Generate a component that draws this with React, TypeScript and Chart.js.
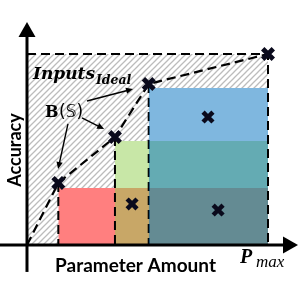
import React, { useEffect, useRef } from 'react';
import { Chart, registerables } from 'chart.js';

Chart.register(...registerables);

// ---- data (normalised units: parameter amount 0..P_max=1, accuracy 0..ideal=1) ----
const POINT_X = [0.13, 0.365, 0.505, 1.0]; // B(S) selections and P_max
const POINT_Y = [0.325, 0.565, 0.843, 1.0];
const RECT_X = [0.13, 0.365, 0.505];
const RECT_TOP = [0.298, 0.545, 0.822];
const RECT_COLORS = ['rgba(255,0,0,0.5)', 'rgba(146,208,80,0.5)', 'rgba(0,112,192,0.5)'];
const CAND_X = [0.751, 0.436, 0.793];
const CAND_Y = [0.67, 0.215, 0.183];
const P_MAX = 1.0;
const ACC_IDEAL = 1.0;
const ARROW_FROM_X = [0.249, 0.228, 0.17];
const ARROW_FROM_Y = [0.754, 0.665, 0.634];
const ARROW_TO_X = [0.44, 0.32, 0.129];
const ARROW_TO_Y = [0.817, 0.607, 0.398];
const X_RANGE = [-0.112, 1.1286];
const Y_RANGE = [-0.2827, 1.2827];
const X_AXIS_END = 1.1245;
const Y_AXIS_END = 1.168;
const Y_AXIS_START = -0.141;

function makeHatch(): CanvasPattern | string {
  const s = 6;
  const c = document.createElement('canvas');
  c.width = s;
  c.height = s;
  const g = c.getContext('2d');
  if (!g) return '#ddd';
  g.fillStyle = '#ffffff';
  g.fillRect(0, 0, s, s);
  g.strokeStyle = '#bcbcbc';
  g.lineWidth = 1.3;
  g.beginPath();
  g.moveTo(-1, s + 1);
  g.lineTo(s + 1, -1);
  g.moveTo(-1, 1);
  g.lineTo(1, -1);
  g.moveTo(s - 1, s + 1);
  g.lineTo(s + 1, s - 1);
  g.stroke();
  const p = g.createPattern(c, 'repeat');
  return p || '#ddd';
}

function drawArrow(ctx: CanvasRenderingContext2D, x0: number, y0: number, x1: number, y1: number, lw: number, hl: number, hw: number, color: string) {
  const a = Math.atan2(y1 - y0, x1 - x0);
  const bx = x1 - Math.cos(a) * hl;
  const by = y1 - Math.sin(a) * hl;
  ctx.strokeStyle = color;
  ctx.fillStyle = color;
  ctx.lineWidth = lw;
  ctx.beginPath();
  ctx.moveTo(x0, y0);
  ctx.lineTo(bx + Math.cos(a) * 1, by + Math.sin(a) * 1);
  ctx.stroke();
  ctx.beginPath();
  ctx.moveTo(x1, y1);
  ctx.lineTo(bx - Math.sin(a) * hw, by + Math.cos(a) * hw);
  ctx.lineTo(bx + Math.sin(a) * hw, by - Math.cos(a) * hw);
  ctx.closePath();
  ctx.fill();
}

const overlay = {
  id: 'overlay',
  afterDatasetsDraw(chart: any) {
    const { ctx } = chart;
    const xs = chart.scales.x;
    const ys = chart.scales.y;
    const X = (v: number) => xs.getPixelForValue(v);
    const Y = (v: number) => ys.getPixelForValue(v);
    ctx.save();
    // axes
    drawArrow(ctx, X(X_RANGE[0]), Y(0), X(X_AXIS_END), Y(0), 3, 15, 8.5, '#000');
    drawArrow(ctx, X(0), Y(Y_AXIS_START), X(0), Y(Y_AXIS_END), 3, 15, 8.5, '#000');
    // annotation arrows
    for (let i = 0; i < ARROW_FROM_X.length; i++) {
      drawArrow(ctx, X(ARROW_FROM_X[i]), Y(ARROW_FROM_Y[i]), X(ARROW_TO_X[i]), Y(ARROW_TO_Y[i]), 1.4, 7, 3.2, '#000');
    }
    ctx.restore();
  },
  afterDraw(chart: any) {
    const { ctx } = chart;
    ctx.save();
    ctx.fillStyle = '#000';
    ctx.textBaseline = 'alphabetic';
    // Accuracy
    ctx.save();
    ctx.translate(21, 150);
    ctx.rotate(-Math.PI / 2);
    ctx.textAlign = 'center';
    ctx.font = 'bold 18px Lato';
    ctx.fillText('Accuracy', 0, 0);
    ctx.restore();
    // Parameter Amount
    ctx.textAlign = 'center';
    ctx.font = 'bold 19px Lato';
    ctx.fillText('Parameter Amount', 135.5, 272);
    // P_max
    ctx.textAlign = 'left';
    ctx.font = 'italic bold 20px "Liberation Serif"';
    ctx.fillText('P', 240, 263);
    ctx.font = 'italic 17px "Liberation Serif"';
    ctx.fillText('max', 256, 267);
    // Inputs_Ideal
    ctx.font = 'italic bold 17px "DejaVu Serif"';
    ctx.fillText('Inputs', 33, 79);
    const w = ctx.measureText('Inputs').width;
    ctx.font = 'italic bold 12.5px "DejaVu Serif"';
    ctx.fillText('Ideal', 33 + w + 1, 84);
    // B(S)
    ctx.font = 'bold 16px "DejaVu Serif"';
    ctx.fillText('B', 45, 117);
    const wb = ctx.measureText('B').width;
    ctx.font = '17px "DejaVu Sans"';
    ctx.fillText('(\u{1D54A})', 45 + wb + 0.5, 117);
    ctx.restore();
  },
};

export default function App() {
  const ref = useRef<HTMLCanvasElement | null>(null);
  useEffect(() => {
    if (!ref.current) return;
    const hatch = makeHatch();
    const dash = [9, 5];
    const datasets: any[] = [];
    // hatch box
    datasets.push({
      data: [{ x: 0, y: ACC_IDEAL }, { x: P_MAX, y: ACC_IDEAL }],
      fill: 'origin', backgroundColor: hatch, borderWidth: 0, pointRadius: 0, order: 100,
    });
    // white under rectangles
    RECT_X.forEach((rx, i) => {
      datasets.push({
        data: [{ x: rx, y: RECT_TOP[i] }, { x: P_MAX, y: RECT_TOP[i] }],
        fill: 'origin', backgroundColor: '#ffffff', borderWidth: 0, pointRadius: 0, order: 90,
      });
    });
    // coloured rectangles
    RECT_X.forEach((rx, i) => {
      datasets.push({
        data: [{ x: rx, y: RECT_TOP[i] }, { x: P_MAX, y: RECT_TOP[i] }],
        fill: 'origin', backgroundColor: RECT_COLORS[i], borderWidth: 0, pointRadius: 0, order: 80 - i * 2,
      });
    });
    // dashed verticals from selections
    POINT_X.slice(0, 3).forEach((px, i) => {
      datasets.push({
        data: [{ x: px, y: POINT_Y[i] }, { x: px, y: 0 }],
        borderColor: '#000', borderWidth: 2, borderDash: dash, pointRadius: 0, fill: false,
        order: i === 2 ? 77 : 50,
      });
    });
    // top and right dashed bounds
    datasets.push({
      data: [{ x: 0, y: ACC_IDEAL }, { x: P_MAX, y: ACC_IDEAL }, { x: P_MAX, y: 0 }],
      borderColor: '#000', borderWidth: 2, borderDash: dash, pointRadius: 0, fill: false, order: 40,
    });
    // dashed frontier
    datasets.push({
      data: [{ x: 0, y: 0 }, ...POINT_X.map((px, i) => ({ x: px, y: POINT_Y[i] }))],
      borderColor: '#000', borderWidth: 2.2, borderDash: dash, pointRadius: 0, fill: false, order: 30,
    });
    // markers
    datasets.push({
      data: POINT_X.map((px, i) => ({ x: px, y: POINT_Y[i] })),
      showLine: false, pointStyle: 'crossRot', pointRadius: 7.5, borderWidth: 4.8,
      borderColor: '#0a0a1c', backgroundColor: '#0a0a1c', order: 1,
    });
    datasets.push({
      data: CAND_X.map((cx, i) => ({ x: cx, y: CAND_Y[i] })),
      showLine: false, pointStyle: 'crossRot', pointRadius: 7, borderWidth: 4.5,
      borderColor: '#0a0a1c', backgroundColor: '#0a0a1c', order: 1,
    });

    const chart = new Chart(ref.current, {
      type: 'line',
      data: { datasets },
      options: {
        animation: false,
        responsive: false,
        parsing: false,
        layout: { padding: 0, autoPadding: false },
        plugins: { legend: { display: false }, tooltip: { enabled: false } },
        elements: { line: { tension: 0 } },
        scales: {
          x: { type: 'linear', min: X_RANGE[0], max: X_RANGE[1], display: false },
          y: { type: 'linear', min: Y_RANGE[0], max: Y_RANGE[1], display: false },
        },
      },
      plugins: [overlay],
    } as any);
    return () => chart.destroy();
  }, []);
  return (
    <div style={{ position: 'absolute', left: 0, top: 0, width: 299, height: 299, background: '#fff' }}>
      <canvas ref={ref} width={299} height={299} style={{ display: 'block' }} />
    </div>
  );
}
